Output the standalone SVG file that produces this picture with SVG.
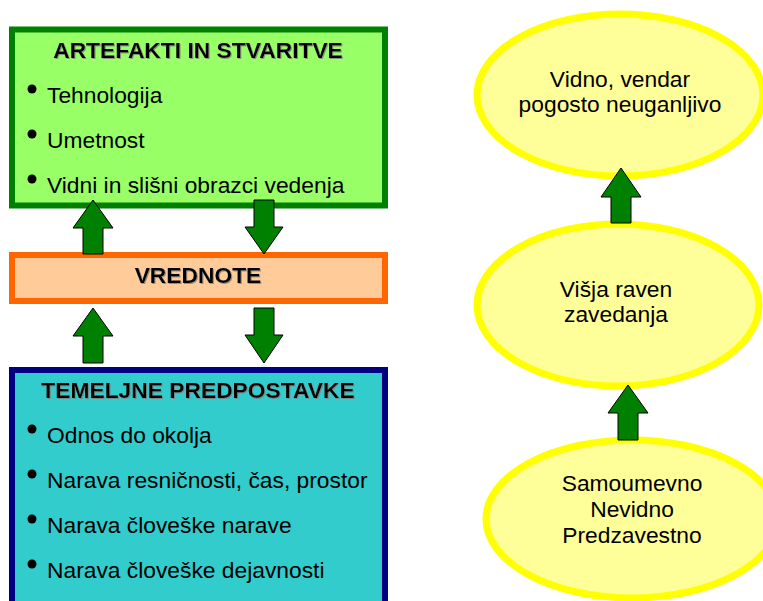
<svg xmlns="http://www.w3.org/2000/svg" width="763" height="601" viewBox="0 0 763 601">
<style>
.t{font-family:"Liberation Sans",Arial,sans-serif;font-size:22.8px;fill:#000}
.b{font-weight:bold;text-anchor:middle;filter:url(#sh)}
.c{text-anchor:middle}
.arr{fill:#008000;stroke:#000;stroke-width:1}
.ell{fill:#FFFF99;stroke:#FFFF00;stroke-width:7}
</style>
<defs>
<filter id="sh" x="-5%" y="-20%" width="110%" height="140%">
<feDropShadow dx="1" dy="1" stdDeviation="0.3" flood-color="#808080" flood-opacity="0.8"/>
</filter>
</defs>
<rect width="763" height="601" fill="#fff"/>
<g id="artefakti">
<rect x="12" y="29.5" width="373" height="176" fill="#99FF66" stroke="#008000" stroke-width="6"/>
<text class="t b" x="198" y="58">ARTEFAKTI IN STVARITVE</text>
<circle cx="32" cy="89" r="4.5"/><text class="t" x="47" y="103">Tehnologija</text>
<circle cx="32" cy="134" r="4.5"/><text class="t" x="47" y="148">Umetnost</text>
<circle cx="32" cy="179" r="4.5"/><text class="t" x="47" y="193">Vidni in slišni obrazci vedenja</text>
</g>
<g id="vrednote">
<rect x="12" y="255" width="373" height="46" fill="#FFCC99" stroke="#FF6600" stroke-width="6"/>
<text class="t b" x="198" y="283">VREDNOTE</text>
</g>
<g id="temeljne">
<rect x="12" y="370" width="373" height="240" fill="#33CCCC" stroke="#000080" stroke-width="6"/>
<text class="t b" x="198" y="398">TEMELJNE PREDPOSTAVKE</text>
<circle cx="32" cy="429" r="4.5"/><text class="t" x="47" y="443">Odnos do okolja</text>
<circle cx="32" cy="474" r="4.5"/><text class="t" x="47" y="488">Narava resničnosti, čas, prostor</text>
<circle cx="32" cy="519" r="4.5"/><text class="t" x="47" y="533">Narava človeške narave</text>
<circle cx="32" cy="564" r="4.5"/><text class="t" x="47" y="578">Narava človeške dejavnosti</text>
</g>
<g id="vidno">
<ellipse class="ell" cx="620" cy="95" rx="143" ry="81"/>
<text class="t c" x="620" y="87">Vidno, vendar</text>
<text class="t c" x="620" y="112">pogosto neuganljivo</text>
</g>
<g id="visja">
<ellipse class="ell" cx="618" cy="305" rx="141" ry="81"/>
<text class="t c" x="616" y="297">Višja raven</text>
<text class="t c" x="616" y="322">zavedanja</text>
</g>
<g id="samoumevno">
<ellipse class="ell" cx="632" cy="519" rx="146" ry="79"/>
<text class="t c" x="632" y="491">Samoumevno</text>
<text class="t c" x="632" y="517">Nevidno</text>
<text class="t c" x="632" y="543">Predzavestno</text>
</g>
<g id="connectors">
<polygon class="arr" points="93,200 113,228 103,228 103,254 83,254 83,228 73,228"/>
<polygon class="arr" points="254,200 274,200 274,227 283,227 264,254 245,227 254,227"/>
<polygon class="arr" points="93,308 113,336 103,336 103,363 83,363 83,336 73,336"/>
<polygon class="arr" points="254,308 274,308 274,335 283,335 264,363 245,335 254,335"/>
<polygon class="arr" points="621,168 641,197 631,197 631,223 611,223 611,197 601,197"/>
<polygon class="arr" points="628,385 648,413 638,413 638,440 618,440 618,413 608,413"/>
</g>
</svg>
